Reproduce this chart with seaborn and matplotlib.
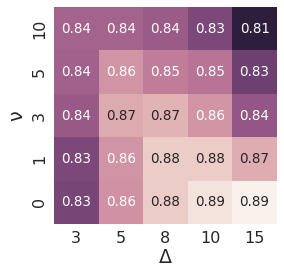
import matplotlib
matplotlib.use("Agg")
import matplotlib.pyplot as plt
import numpy as np
import pandas as pd
import seaborn as sns

deltas = [3, 5, 8, 10, 15]
nus = [10, 5, 3, 1, 0]

# accuracy per (nu, delta); rows follow ``nus`` top to bottom
acc_nu10 = [0.844, 0.844, 0.841, 0.832, 0.810]
acc_nu5 = [0.843, 0.862, 0.854, 0.851, 0.828]
acc_nu3 = [0.840, 0.869, 0.872, 0.862, 0.839]
acc_nu1 = [0.832, 0.862, 0.880, 0.880, 0.870]
acc_nu0 = [0.831, 0.861, 0.880, 0.887, 0.892]

sns.set_theme(style="white")

df = pd.DataFrame([acc_nu10, acc_nu5, acc_nu3, acc_nu1, acc_nu0], index=nus, columns=deltas)

fig, ax = plt.subplots(figsize=(284 / 72, 278 / 72), dpi=72)
fig.subplots_adjust(left=0.19, right=0.975, bottom=0.194, top=0.975)

cmap = sns.cubehelix_palette(light=0.95, dark=0.15, as_cmap=True, reverse=True)
sns.heatmap(df, annot=True, fmt=".2f", cmap=cmap, cbar=False, ax=ax,
            annot_kws={"fontsize": 13.5})

ax.set_xlabel("Δ", fontsize=19, labelpad=2)
ax.set_ylabel("ν", fontsize=19, labelpad=6)
ax.tick_params(axis="both", labelsize=16, length=0, pad=7)

fig.savefig("out.png", dpi=72)
